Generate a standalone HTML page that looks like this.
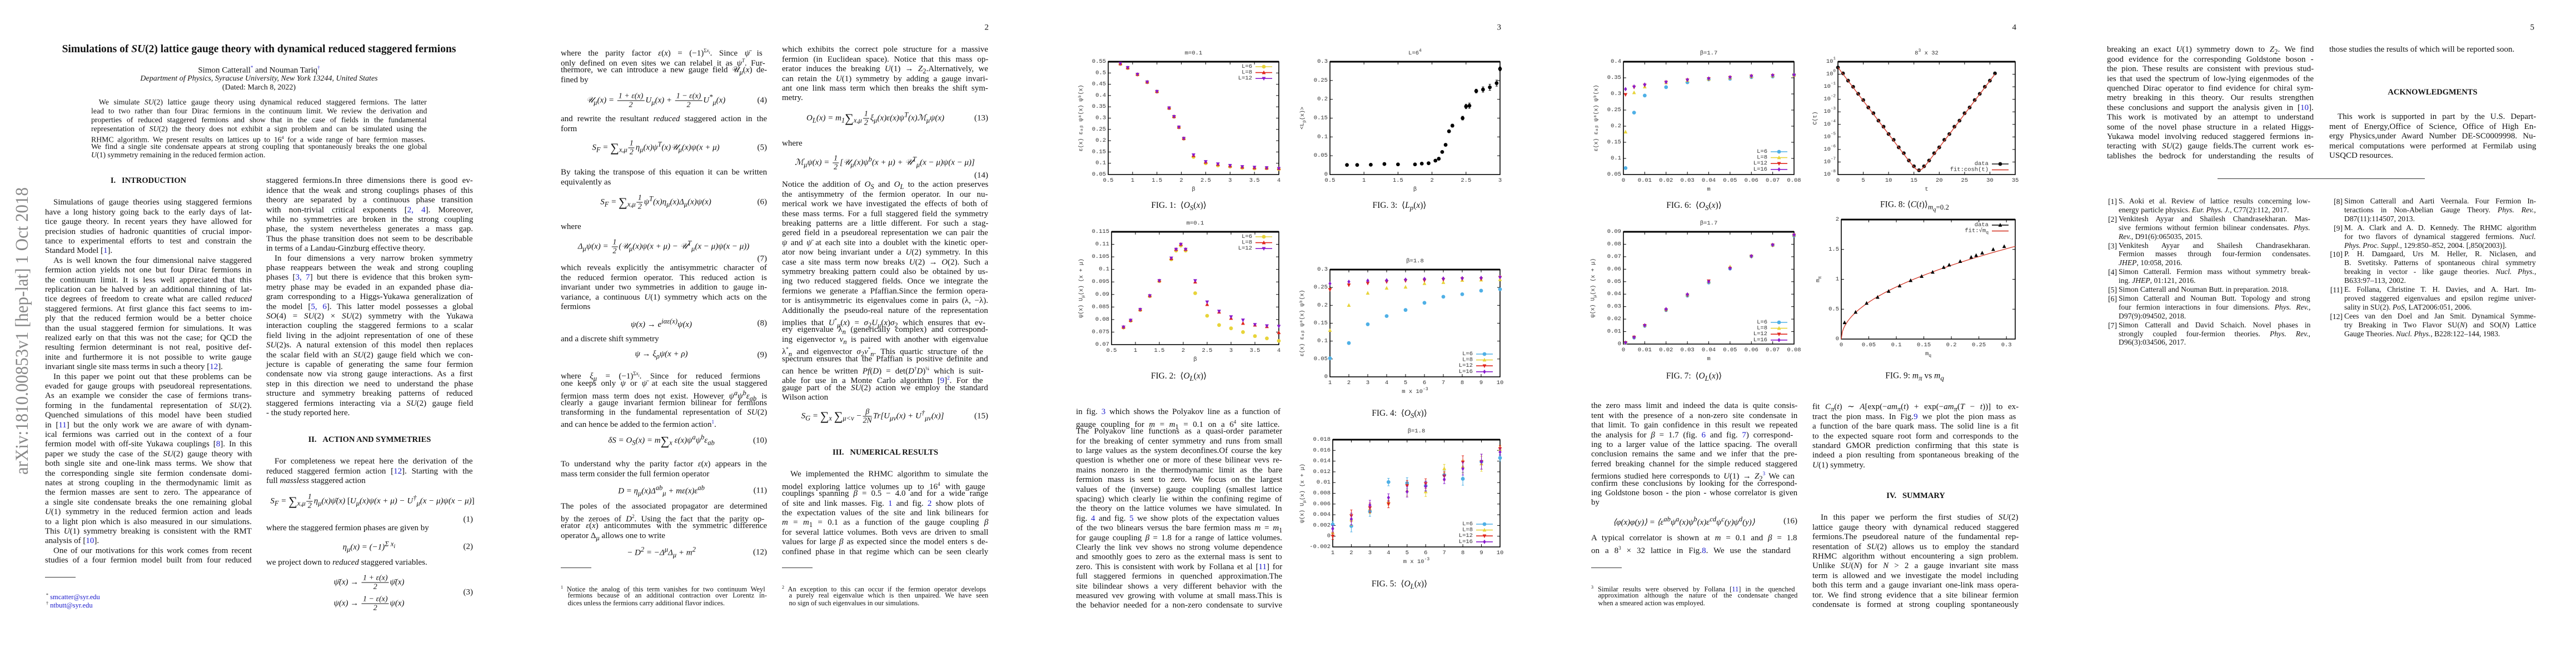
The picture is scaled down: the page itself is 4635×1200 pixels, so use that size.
<!DOCTYPE html>
<html><head><meta charset="utf-8">
<style>
html,body{margin:0;padding:0;background:#fff}
body{width:4635px;height:1200px;position:relative;overflow:hidden;font-family:"Liberation Serif",serif;color:#111}
.ln{position:absolute;white-space:nowrap;font-size:15px;height:17.4px;line-height:17.4px;transform-origin:0 50%}
.c{color:#1a1acc}
.h{position:absolute;font-weight:bold;font-size:14.5px;white-space:nowrap;transform:translateX(-50%)}
.eq{position:absolute;white-space:nowrap;font-size:15px;font-style:italic;transform:translate(-50%,-50%)}
.eq .u{font-style:normal}
.num{position:absolute;font-size:15px;white-space:nowrap;transform:translate(-100%,-50%)}
.fr{display:inline-block;vertical-align:middle;text-align:center;font-size:14px;margin:0 2px}
.fr>span{display:block;line-height:15px}
.fr .n{border-bottom:1px solid #111;padding:0 2px}
.sg{font-size:22px;font-style:normal;vertical-align:middle}
.cap{position:absolute;font-size:15.5px;white-space:nowrap;transform:translate(-50%,-50%)}
.pn{position:absolute;font-size:15px;transform:translate(-100%,-50%)}
.rule{position:absolute;height:1px;background:#333}
</style></head>
<body>
<div id="txt"></div>
<svg id="plots" width="4635" height="1200" style="position:absolute;left:0;top:0" xmlns="http://www.w3.org/2000/svg">
<text transform="translate(50,854) rotate(-90)" font-family="Liberation Serif, serif" font-size="33" fill="#888" textLength="517" lengthAdjust="spacingAndGlyphs">arXiv:1810.00853v1  [hep-lat]  1 Oct 2018</text>
</svg>

<div class="pn" style="left:1779px;top:50px">2</div>
<div class="pn" style="left:2701px;top:50px">3</div>
<div class="pn" style="left:3628px;top:50px">4</div>
<div class="pn" style="left:4560px;top:50px">5</div>

<div style="position:absolute;left:466px;top:89px;transform:translate(-50%,-50%);font-size:19.5px;font-weight:bold;white-space:nowrap">Simulations of <i>SU</i>(2) lattice gauge theory with dynamical reduced staggered fermions</div>
<div style="position:absolute;left:466px;top:126px;transform:translate(-50%,-50%);font-size:15px;white-space:nowrap">Simon Catterall<sup class="c" style="font-size:9px">*</sup> and Nouman Tariq<sup class="c" style="font-size:9px">†</sup></div>
<div style="position:absolute;left:466px;top:142px;transform:translate(-50%,-50%);font-size:14px;font-style:italic;white-space:nowrap">Department of Physics, Syracuse University, New York 13244, United States</div>
<div style="position:absolute;left:466px;top:158px;transform:translate(-50%,-50%);font-size:14px;white-space:nowrap">(Dated: March 8, 2022)</div>

<div class="h" style="left:267px;top:317px">I.&nbsp;&nbsp;&nbsp;INTRODUCTION</div>
<div class="h" style="left:665px;top:783px">II.&nbsp;&nbsp;&nbsp;ACTION AND SYMMETRIES</div>
<div class="h" style="left:1593px;top:806px">III.&nbsp;&nbsp;&nbsp;NUMERICAL RESULTS</div>
<div class="h" style="left:3447px;top:884px">IV.&nbsp;&nbsp;&nbsp;SUMMARY</div>
<div class="h" style="left:4377px;top:158px">ACKNOWLEDGMENTS</div>

<div class="rule" style="left:81px;top:1038px;width:55px"></div>
<div class="rule" style="left:1009px;top:1021px;width:55px"></div>
<div class="rule" style="left:1407px;top:1021px;width:55px"></div>
<div class="rule" style="left:2863px;top:1021px;width:55px"></div>
<div class="rule" style="left:3990px;top:321px;width:373px"></div>
<div style="position:absolute;left:83px;top:1066px;font-size:12.5px;white-space:nowrap"><sup style="font-size:8px">*</sup> <span class="c">smcatter@syr.edu</span></div>
<div style="position:absolute;left:83px;top:1081px;font-size:12.5px;white-space:nowrap"><sup style="font-size:8px">†</sup> <span class="c">ntbutt@syr.edu</span></div>

<!-- Equations -->
<div class="eq" style="left:670px;top:902px">S<sub>F</sub> = <span class="sg">∑</span><sub>x,μ</sub><span class="fr"><span class="n">1</span><span>2</span></span>η<sub>μ</sub>(x)ψ̄(x) <span class="u">[</span>U<sub>μ</sub>(x)ψ(x + μ) − U<sup>†</sup><sub>μ</sub>(x − μ)ψ(x − μ)<span class="u">]</span></div>
<div class="num" style="left:851px;top:935px">(1)</div>
<div class="eq" style="left:664px;top:984px">η<sub>μ</sub>(x) = (−1)<sup>Σ x<sub>i</sub></sup></div>
<div class="num" style="left:851px;top:984px">(2)</div>
<div class="eq" style="left:664px;top:1048px">ψ̄(x) → <span class="fr"><span class="n">1 + ε(x)</span><span>2</span></span>ψ̄(x)</div>
<div class="eq" style="left:664px;top:1086px">ψ(x) → <span class="fr"><span class="n">1 − ε(x)</span><span>2</span></span>ψ(x)</div>
<div class="num" style="left:851px;top:1066px">(3)</div>

<div class="eq" style="left:1180px;top:181px">𝒰<sub>μ</sub>(x) = <span class="fr"><span class="n">1 + ε(x)</span><span>2</span></span>U<sub>μ</sub>(x) + <span class="fr"><span class="n">1 − ε(x)</span><span>2</span></span>U<sup>*</sup><sub>μ</sub>(x)</div>
<div class="num" style="left:1380px;top:181px">(4)</div>
<div class="eq" style="left:1180px;top:266px">S<sub>F</sub> = <span class="sg">∑</span><sub>x,μ</sub><span class="fr"><span class="n">1</span><span>2</span></span>η<sub>μ</sub>(x)ψ<sup>T</sup>(x)𝒰<sub>μ</sub>(x)ψ(x + μ)</div>
<div class="num" style="left:1380px;top:266px">(5)</div>
<div class="eq" style="left:1180px;top:364px">S<sub>F</sub> = <span class="sg">∑</span><sub>x,μ</sub><span class="fr"><span class="n">1</span><span>2</span></span>ψ<sup>T</sup>(x)η<sub>μ</sub>(x)Δ<sub>μ</sub>(x)ψ(x)</div>
<div class="num" style="left:1380px;top:364px">(6)</div>
<div class="eq" style="left:1194px;top:444px">Δ<sub>μ</sub>ψ(x) = <span class="fr"><span class="n">1</span><span>2</span></span>(𝒰<sub>μ</sub>(x)ψ(x + μ) − 𝒰<sup>T</sup><sub>μ</sub>(x − μ)ψ(x − μ))</div>
<div class="num" style="left:1380px;top:466px">(7)</div>
<div class="eq" style="left:1190px;top:582px">ψ(x) → e<sup>iαε(x)</sup>ψ(x)</div>
<div class="num" style="left:1380px;top:582px">(8)</div>
<div class="eq" style="left:1190px;top:639px">ψ → ξ<sub>ρ</sub>ψ(x + ρ)</div>
<div class="num" style="left:1380px;top:639px">(9)</div>
<div class="eq" style="left:1190px;top:793px">δS = O<sub>S</sub>(x) = m<span class="sg">∑</span><sub>x</sub> ε(x)ψ<sup>a</sup>ψ<sup>b</sup>ε<sub>ab</sub></div>
<div class="num" style="left:1380px;top:793px">(10)</div>
<div class="eq" style="left:1190px;top:883px">D = η<sub>μ</sub>(x)Δ<sup>ab</sup><sub>μ</sub> + mε(x)ε<sup>ab</sup></div>
<div class="num" style="left:1380px;top:883px">(11)</div>
<div class="eq" style="left:1190px;top:994px">− D<sup>2</sup> = −Δ<sup>μ</sup>Δ<sub>μ</sub> + m<sup>2</sup></div>
<div class="num" style="left:1380px;top:994px">(12)</div>

<div class="eq" style="left:1575px;top:213px">O<sub>L</sub>(x) = m<sub>1</sub><span class="sg">∑</span><sub>x,μ</sub><span class="fr"><span class="n">1</span><span>2</span></span>ξ<sub>μ</sub>(x)ε(x)ψ<sup>T</sup>(x)ℳ<sub>μ</sub>ψ(x)</div>
<div class="num" style="left:1778px;top:213px">(13)</div>
<div class="eq" style="left:1592px;top:293px">ℳ<sub>μ</sub>ψ(x) = <span class="fr"><span class="n">1</span><span>2</span></span>[𝒰<sub>μ</sub>(x)ψ<sup>b</sup>(x + μ) + 𝒰<sup>T</sup><sub>μ</sub>(x − μ)ψ(x − μ)]</div>
<div class="num" style="left:1778px;top:316px">(14)</div>
<div class="eq" style="left:1570px;top:749px">S<sub>G</sub> = <span class="sg">∑</span><sub>x</sub> <span class="sg">∑</span><sub>μ&lt;ν</sub> −<span class="fr"><span class="n">β</span><span>2N</span></span>Tr[U<sub>μν</sub>(x) + U<sup>†</sup><sub>μν</sub>(x)]</div>
<div class="num" style="left:1778px;top:749px">(15)</div>
<div class="eq" style="left:3030px;top:938px">⟨φ(x)φ(y)⟩ = ⟨ε<sup>ab</sup>ψ<sup>a</sup>(x)ψ<sup>b</sup>(x)ε<sup>cd</sup>ψ<sup>c</sup>(y)ψ<sup>d</sup>(y)⟩</div>
<div class="num" style="left:3234px;top:938px">(16)</div>

<!-- Captions -->
<div class="cap" style="left:2121px;top:371px">FIG. 1:&nbsp; ⟨<i>O<sub>S</sub></i>(<i>x</i>)⟩</div>
<div class="cap" style="left:2518px;top:371px">FIG. 3:&nbsp; ⟨<i>L<sub>p</sub></i>(<i>x</i>)⟩</div>
<div class="cap" style="left:2121px;top:678px">FIG. 2:&nbsp; ⟨<i>O<sub>L</sub></i>(<i>x</i>)⟩</div>
<div class="cap" style="left:2518px;top:745px">FIG. 4:&nbsp; ⟨<i>O<sub>S</sub></i>(<i>x</i>)⟩</div>
<div class="cap" style="left:2518px;top:1052px">FIG. 5:&nbsp; ⟨<i>O<sub>L</sub></i>(<i>x</i>)⟩</div>
<div class="cap" style="left:3048px;top:371px">FIG. 6:&nbsp; ⟨<i>O<sub>S</sub></i>(<i>x</i>)⟩</div>
<div class="cap" style="left:3445px;top:371px">FIG. 8: ⟨<i>C</i>(<i>t</i>)⟩<sub><i>m<sub>q</sub></i>=0.2</sub></div>
<div class="cap" style="left:3048px;top:678px">FIG. 7:&nbsp; ⟨<i>O<sub>L</sub></i>(<i>x</i>)⟩</div>
<div class="cap" style="left:3445px;top:678px">FIG. 9: <i>m<sub>π</sub></i> vs <i>m<sub>q</sub></i></div>

<script>
// ================= CHART DATA =================
const f1Beta = [0.75,0.9,1.1,1.3,1.5,1.75,1.85,1.95,2.05,2.25,2.5,2.75,3.0,3.25,3.5,3.75,4.0];
const f1L6 = [0.540,0.522,0.493,0.459,0.417,0.344,0.306,0.259,0.209,0.128,0.100,0.090,0.085,0.080,0.077,0.078,0.074];
const f1L8 = [0.541,0.523,0.494,0.460,0.418,0.345,0.307,0.260,0.210,0.134,0.105,0.095,0.088,0.083,0.080,0.079,0.077];
const f1L12 = [0.542,0.524,0.494,0.460,0.418,0.345,0.307,0.260,0.210,0.137,0.107,0.097,0.090,0.085,0.082,0.080,0.077];
const f2Beta = [0.75,0.9,1.1,1.3,1.5,1.75,1.85,1.95,2.05,2.25,2.5,2.75,3.0,3.25,3.5,3.75,4.0];
const f2L6 = [0.0768,0.0795,0.0838,0.0893,0.0953,0.1040,0.1075,0.1095,0.1075,0.0905,0.0815,0.0778,0.0765,0.0750,0.0734,0.0725,0.0715];
const f2L8 = [0.0770,0.0797,0.0840,0.0895,0.0955,0.1043,0.1080,0.1100,0.1080,0.0950,0.0860,0.0830,0.0805,0.0785,0.0778,0.0772,0.0748];
const f2L12 = [0.0770,0.0797,0.0840,0.0895,0.0955,0.1045,0.1080,0.1100,0.1080,0.0955,0.0870,0.0833,0.0811,0.0798,0.0780,0.0775,0.0773];
const f3Beta = [0.75,0.9,1.1,1.3,1.5,1.75,1.85,1.95,2.05,2.1,2.15,2.2,2.25,2.3,2.45,2.5,2.55,2.65,2.75,2.85,2.95,3.0];
const f3Lp = [0.0255,0.0255,0.026,0.028,0.027,0.027,0.029,0.030,0.037,0.042,0.060,0.079,0.115,0.130,0.150,0.181,0.183,0.222,0.226,0.232,0.243,0.281];
const f3Err = [0.002,0.002,0.002,0.002,0.002,0.002,0.002,0.002,0.003,0.003,0.003,0.003,0.003,0.004,0.005,0.006,0.007,0.005,0.007,0.008,0.008,0.005];
const f4M = [1,2,3,4,5,6,7,8,9,10];
const f4L6 = [0.052,0.0945,0.147,0.170,0.187,0.207,0.224,0.231,0.241,0.245];
const f4L8 = [0.130,0.200,0.234,0.248,0.251,0.261,0.264,0.270,0.271,0.272];
const f4L12 = [0.244,0.257,0.262,0.266,0.269,0.270,0.272,0.274,0.274,0.278];
const f4L16 = [0.261,0.266,0.269,0.270,0.272,0.274,0.275,0.276,0.277,0.279];
const f5M = [1,2,3,4,5,6,7,8,9,10];
const f5L6 = [0.0022,0.0019,0.0046,0.0101,0.0099,0.0094,0.0114,0.0107,0.0139,0.0146];
const f5L8 = [0.0007,0.0031,0.0051,0.0065,0.0085,0.0083,0.0126,0.0130,0.0135,0.0162];
const f5L12 = [0.0000,0.0038,0.0053,0.0060,0.0094,0.0098,0.0112,0.0138,0.0139,0.0163];
const f5L16 = [0.0014,0.0032,0.0058,0.0072,0.0083,0.0093,0.0106,0.0126,0.0139,0.0157];
const f5Err = [0.0006,0.0011,0.0009,0.0007,0.0010,0.0009,0.0008,0.0012,0.0014,0.0006];
const f6M = [0.001,0.005,0.01,0.02,0.03,0.04,0.05,0.06,0.07,0.08];
const f6L6 = [0.070,0.242,0.295,0.321,0.336,0.345,0.347,0.352,0.354,0.359];
const f6L8 = [0.182,0.304,0.322,0.335,0.342,0.346,0.350,0.354,0.356,0.358];
const f6L12 = [0.298,0.321,0.327,0.336,0.343,0.347,0.351,0.355,0.357,0.358];
const f6L16 = [0.315,0.323,0.329,0.337,0.344,0.348,0.352,0.356,0.358,0.359];
const f7M = [0.001,0.005,0.01,0.02,0.03,0.04,0.05,0.06,0.07,0.08];
const f7L6 = [0.0010,0.0052,0.0146,0.0272,0.0388,0.0493,0.0605,0.0703,0.0793,0.0868];
const f7L8 = [0.0012,0.0058,0.0150,0.0278,0.0395,0.0500,0.0620,0.0706,0.0793,0.0873];
const f7L12 = [0.0010,0.0054,0.0148,0.0274,0.0392,0.0505,0.0606,0.0703,0.0793,0.0873];
const f7L16 = [0.0011,0.0054,0.0150,0.0280,0.0398,0.0500,0.0608,0.0705,0.0795,0.0875];
const f8T = [0,1,2,3,4,5,6,7,8,9,10,11,12,13,14,15,16,17,18,19,20,21,22,23,24,25,26,27,28,29,30,31];
const f8LogC = [0.54,0.07,-0.51,-1.0,-1.56,-2.06,-2.65,-3.11,-3.70,-4.18,-4.77,-5.23,-5.83,-6.30,-6.88,-7.34,-7.66,-7.34,-6.88,-6.30,-5.83,-5.23,-4.77,-4.18,-3.70,-3.11,-2.65,-2.06,-1.56,-1.0,-0.51,0.07];
const f8FitA = 3.5;
const f8FitM = 1.225;
const f8FitT = 32;
const f9Mq = [0.006,0.026,0.046,0.066,0.086,0.106,0.126,0.146,0.166,0.186,0.196,0.216,0.236,0.245,0.256,0.276,0.296];
const f9Mpi = [0.275,0.45,0.60,0.70,0.80,0.89,0.98,1.05,1.12,1.20,1.24,1.30,1.37,1.40,1.44,1.50,1.55];
const f9FitCoef = 2.76;
const ticksB4 = [0.5,1,1.5,2,2.5,3,3.5,4];
const ticksB3 = [0.5,1,1.5,2,2.5,3];
const ticksM10 = [1,2,3,4,5,6,7,8,9,10];
const ticksM08 = [0,0.01,0.02,0.03,0.04,0.05,0.06,0.07,0.08];
const ticksT = [0,5,10,15,20,25,30,35];
const ticksLog = [-8,-7,-6,-5,-4,-3,-2,-1,0,1];
const ticksMq = [0,0.05,0.1,0.15,0.2,0.25,0.3];

// ================= TEXT =================
const TX = document.getElementById('txt');
function col(x, y, w, lines, fs, lh, nm) {
  lines.forEach((s, i) => {
    const d = document.createElement('div');
    
    
    d.className = 'ln';
    let ind = false, end = false;
    if (s.startsWith('>')) { ind = true; s = s.slice(1); }
    if (s.endsWith('|')) { end = true; s = s.slice(0, -1); }
    d.style.left = x + 'px';
    d.style.top = (y + i * lh - lh / 2) + 'px';
    d.style.fontSize = fs + 'px';
    d.style.height = lh + 'px';
    d.style.lineHeight = lh + 'px';
    if (ind) d.style.paddingLeft = (fs) + 'px';
    d.innerHTML = s.replace(/\[([\d, ]+)\]/g, '[<span class="c">$1</span>]');
    TX.appendChild(d);
    const nat = d.offsetWidth;
    if (!end) {
      const sp = (s.match(/ /g) || []).length;
      if (nat < w && sp > 0) d.style.wordSpacing = ((w - nat) / sp) + 'px';
      else if (nat > w) d.style.transform = 'scaleX(' + (w / nat) + ')';
    } else if (nat > w) d.style.transform = 'scaleX(' + (w / nat) + ')';
  });
}
const R = s => s; // plain
col(164, 184, 604, [
">We simulate <i>SU</i>(2) lattice gauge theory using dynamical reduced staggered fermions. The latter",
"lead to two rather than four Dirac fermions in the continuum limit. We review the derivation and",
"properties of reduced staggered fermions and show that in the case of fields in the fundamental",
"representation of <i>SU</i>(2) the theory does not exhibit a sign problem and can be simulated using the",
"RHMC algorithm. We present results on lattices up to 16<sup style='font-size:8px'>4</sup> for a wide range of bare fermion masses.",
"We find a single site condensate appears at strong coupling that spontaneously breaks the one global",
"<i>U</i>(1) symmetry remaining in the reduced fermion action.|"], 13.8, 15.9, 'abstract-line');

col(81, 365, 372, [
">Simulations of gauge theories using staggered fermions",
"have a long history going back to the early days of lat-",
"tice gauge theory. In recent years they have allowed for",
"precision studies of hadronic quantities of crucial impor-",
"tance to experimental efforts to test and constrain the",
"Standard Model [1].|",
">As is well known the four dimensional naive staggered",
"fermion action yields not one but four Dirac fermions in",
"the continuum limit. It is less well appreciated that this",
"replication can be halved by an additional thinning of lat-",
"tice degrees of freedom to create what are called <i>reduced</i>",
"staggered fermions. At first glance this fact seems to im-",
"ply that the reduced fermion would be a better choice",
"than the usual staggered fermion for simulations. It was",
"realized early on that this was not the case; for QCD the",
"resulting fermion determinant is not real, positive def-",
"inite and furthermore it is not possible to write gauge",
"invariant single site mass terms in such a theory [12].|",
">In this paper we point out that these problems can be",
"evaded for gauge groups with pseudoreal representations.",
"As an example we consider the case of fermions trans-",
"forming in the fundamental representation of <i>SU</i>(2).",
"Quenched simulations of this model have been studied",
"in [11] but the only work we are aware of with dynam-",
"ical fermions was carried out in the context of a four",
"fermion model with off-site Yukawa couplings [8]. In this",
"paper we study the case of the <i>SU</i>(2) gauge theory with",
"both single site and one-link mass terms. We show that",
"the corresponding single site fermion condensate domi-",
"nates at strong coupling in the thermodynamic limit as",
"the fermion masses are sent to zero. The appearance of",
"a single site condensate breaks the one remaining global",
"<i>U</i>(1) symmetry in the reduced fermion action and leads",
"to a light pion which is also measured in our simulations.",
"This <i>U</i>(1) symmetry breaking is consistent with the RMT",
"analysis of [10].|",
">One of our motivations for this work comes from recent",
"studies of a four fermion model built from four reduced"], 15, 17.4, 'intro-text-line');

col(479, 326, 372, [
"staggered fermions.In three dimensions there is good ev-",
"idence that the weak and strong couplings phases of this",
"theory are separated by a continuous phase transition",
"with non-trivial critical exponents [2, 4]. Moreover,",
"while no symmetries are broken in the strong coupling",
"phase, the system nevertheless generates a mass gap.",
"Thus the phase transition does not seem to be describable",
"in terms of a Landau-Ginzburg effective theory.|",
">In four dimensions a very narrow broken symmetry",
"phase reappears between the weak and strong coupling",
"phases [3, 7] but there is evidence that this broken sym-",
"metry phase may be evaded in an expanded phase dia-",
"gram corresponding to a Higgs-Yukawa generalization of",
"the model [5, 6]. This latter model possesses a global",
"<i>SO</i>(4) = <i>SU</i>(2) × <i>SU</i>(2) symmetry with the Yukawa",
"interaction coupling the staggered fermions to a scalar",
"field living in the adjoint representation of one of these",
"<i>SU</i>(2)s. A natural extension of this model then replaces",
"the scalar field with an <i>SU</i>(2) gauge field which we con-",
"jecture is capable of generating the same four fermion",
"condensate now via strong gauge interactions. As a first",
"step in this direction we need to understand the phase",
"structure and symmetry breaking patterns of reduced",
"staggered fermions interacting via a <i>SU</i>(2) gauge field",
"- the study reported here.|"], 15, 17.4, 'intro-text-line');
col(479, 831, 372, [
">For completeness we repeat here the derivation of the",
"reduced staggered fermion action [12]. Starting with the",
"full <i>massless</i> staggered action|"], 15, 17.4, 'section2-text-line');
col(479, 951, 372, ["where the staggered fermion phases are given by|"], 15, 17.4, 'section2-text-line');
col(479, 1013, 372, ["we project down to <i>reduced</i> staggered variables.|"], 15, 17.4, 'section2-text-line');

// page 2 left
const P2L = 1009, P2R = 1407, W = 371;
col(P2L, 92, W, [
"where the parity factor <i>ε</i>(<i>x</i>) = (−1)<sup style='font-size:9px'>Σ<i>x<sub>i</sub></i></sup>. Since <i>ψ̄</i> is",
"only defined on even sites we can relabel it as <i>ψ<sup style='font-size:9px'>T</sup></i>. Fur-",
"thermore, we can introduce a new gauge field 𝒰<sub><i>μ</i></sub>(<i>x</i>) de-",
"fined by|"], 15, 17.4, 'body-text-line');
col(P2L, 215, W, ["and rewrite the resultant <i>reduced</i> staggered action in the", "form|"], 15, 17.4, 'body-text-line');
col(P2L, 311, W, ["By taking the transpose of this equation it can be written", "equivalently as|"], 15, 17.4, 'body-text-line');
col(P2L, 409, W, ["where|"], 15, 17.4, 'body-text-line');
col(P2L, 483, W, [
"which reveals explicitly the antisymmetric character of",
"the reduced fermion operator. This reduced action is",
"invariant under two symmetries in addition to gauge in-",
"variance, a continuous <i>U</i>(1) symmetry which acts on the",
"fermions|"], 15, 17.4, 'body-text-line');
col(P2L, 611, W, ["and a discrete shift symmetry|"], 15, 17.4, 'body-text-line');
col(P2L, 673, W, [
"where <i>ξ<sub>μ</sub></i> = (−1)<sup style='font-size:9px'>Σ<i>x<sub>i</sub></i></sup>. Since for reduced fermions",
"one keeps only <i>ψ</i> or <i>ψ̄</i> at each site the usual staggered",
"fermion mass term does not exist. However <i>ψ<sup>a</sup>ψ<sup>b</sup>ε<sub>ab</sub></i> is",
"clearly a gauge invariant fermion bilinear for fermions",
"transforming in the fundamental representation of <i>SU</i>(2)",
"and can hence be added to the fermion action<sup class='c' style='font-size:9px'>1</sup>.|"], 15, 17.4, 'body-text-line');
col(P2L, 836, W, ["To understand why the parity factor <i>ε</i>(<i>x</i>) appears in the", "mass term consider the full fermion operator|"], 15, 17.4, 'body-text-line');
col(P2L, 912, W, [
"The poles of the associated propagator are determined",
"by the zeroes of <i>D</i><sup style='font-size:9px'>2</sup>. Using the fact that the parity op-",
"erator <i>ε</i>(<i>x</i>) anticommutes with the symmetric difference",
"operator Δ<sub><i>μ</i></sub> allows one to write|"], 15, 17.4, 'body-text-line');
col(P2L, 1057, W, [
"<sup style='font-size:8px'>1</sup> Notice the analog of this term vanishes for two continuum Weyl",
">fermions because of an additional contraction over Lorentz in-",
">dices unless the fermions carry additional flavor indices.|"], 12.5, 14.2, 'footnote-line');

// page 2 right
col(P2R, 90, W, [
"which exhibits the correct pole structure for a massive",
"fermion (in Euclidean space). Notice that this mass op-",
"erator induces the breaking <i>U</i>(1) → <i>Z</i><sub>2</sub>.Alternatively, we",
"can retain the <i>U</i>(1) symmetry by adding a gauge invari-",
"ant one link mass term which then breaks the shift sym-",
"metry.|"], 15, 17.4, 'body-text-line');
col(P2R, 259, W, ["where|"], 15, 17.4, 'body-text-line');
col(P2R, 333, W, [
"Notice the addition of <i>O<sub>S</sub></i> and <i>O<sub>L</sub></i> to the action preserves",
"the antisymmetry of the fermion operator. In our nu-",
"merical work we have investigated the effects of both of",
"these mass terms. For a full staggered field the symmetry",
"breaking patterns are a little different. For such a stag-",
"gered field in a pseudoreal representation we can pair the",
"<i>ψ</i> and <i>ψ̄</i> at each site into a doublet with the kinetic oper-",
"ator now being invariant under a <i>U</i>(2) symmetry. In this",
"case a site mass term now breaks <i>U</i>(2) → <i>O</i>(2). Such a",
"symmetry breaking pattern could also be obtained by us-",
"ing two reduced staggered fields. Once we integrate the",
"fermions we generate a Pfaffian.Since the fermion opera-",
"tor is antisymmetric its eigenvalues come in pairs (λ, −λ).",
"Additionally the pseudo-real nature of the representation",
"implies that <i>U</i><sup style='font-size:9px'>*</sup><sub><i>μ</i></sub>(<i>x</i>) = <i>σ</i><sub>2</sub><i>U<sub>μ</sub></i>(<i>x</i>)<i>σ</i><sub>2</sub> which ensures that ev-",
"ery eigenvalue λ<sub><i>n</i></sub> (generically complex) and correspond-",
"ing eigenvector <i>v<sub>n</sub></i> is paired with another with eigenvalue",
"λ<sup style='font-size:9px'>*</sup><sub><i>n</i></sub> and eigenvector <i>σ</i><sub>2</sub><i>v</i><sup style='font-size:9px'>*</sup><sub><i>n</i></sub>. This quartic structure of the",
"spectrum ensures that the Pfaffian is positive definite and",
"can hence be written <i>Pf</i>(<i>D</i>) = det(<i>D</i><sup style='font-size:9px'>†</sup><i>D</i>)<sup style='font-size:9px'>¼</sup> which is suit-",
"able for use in a Monte Carlo algorithm [9]<sup class='c' style='font-size:9px'>2</sup>. For the",
"gauge part of the <i>SU</i>(2) action we employ the standard",
"Wilson action|"], 15, 17.4, 'body-text-line');
col(P2R, 854, W, [
">We implemented the RHMC algorithm to simulate the",
"model exploring lattice volumes up to 16<sup style='font-size:9px'>4</sup> with gauge",
"couplings spanning <i>β</i> = 0.5 − 4.0 and for a wide range",
"of site and link masses. Fig. <span class='c'>1</span> and fig. <span class='c'>2</span> show plots of",
"the expectation values of the site and link bilinears for",
"<i>m</i> = <i>m</i><sub>1</sub> = 0.1 as a function of the gauge coupling <i>β</i>",
"for several lattice volumes. Both vevs are driven to small",
"values for large <i>β</i> as expected since the model enters s de-",
"confined phase in that regime which can be seen clearly"], 15, 17.4, 'body-text-line');
col(P2R, 1057, W, [
"<sup style='font-size:8px'>2</sup> An exception to this can occur if the fermion operator develops",
">a purely real eigenvalue which is then unpaired. We have seen",
">no sign of such eigenvalues in our simulations.|"], 12.5, 14.2, 'footnote-line');

// page 3
col(1936, 742, W, [
"in fig. <span class='c'>3</span> which shows the Polyakov line as a function of",
"gauge coupling for <i>m</i> = <i>m</i><sub>1</sub> = 0.1 on a 6<sup style='font-size:9px'>4</sup> site lattice.",
"The Polyakov line functions as a quasi-order parameter",
"for the breaking of center symmetry and runs from small",
"to large values as the system deconfines.Of course the key",
"question is whether one or more of these bilinear vevs re-",
"mains nonzero in the thermodynamic limit as the bare",
"fermion mass is sent to zero. We focus on the largest",
"values of the (inverse) gauge coupling (smallest lattice",
"spacing) which clearly lie within the confining regime of",
"the theory on the lattice volumes we have simulated. In",
"fig. <span class='c'>4</span> and fig. <span class='c'>5</span> we show plots of the expectation values",
"of the two blinears versus the bare fermion mass <i>m</i> = <i>m</i><sub>1</sub>",
"for gauge coupling <i>β</i> = 1.8 for a range of lattice volumes.",
"Clearly the link vev shows no strong volume dependence",
"and smoothly goes to zero as the external mass is sent to",
"zero. This is consistent with work by Follana et al [11] for",
"full staggered fermions in quenched approximation.The",
"site bilindear shows a very different behavior with the",
"measured vev growing with volume at small mass.This is",
"the behavior needed for a non-zero condensate to survive"], 15, 17.4, 'body-text-line');

// page 4
col(2863, 731, W, [
"the zero mass limit and indeed the data is quite consis-",
"tent with the presence of a non-zero site condensate in",
"that limit. To gain confidence in this result we repeated",
"the analysis for <i>β</i> = 1.7 (fig. <span class='c'>6</span> and fig. <span class='c'>7</span>) correspond-",
"ing to a larger value of the lattice spacing. The overall",
"conclusion remains the same and we infer that the pre-",
"ferred breaking channel for the simple reduced staggered",
"fermions studied here corresponds to <i>U</i>(1) → <i>Z</i><sub>2</sub><sup class='c' style='font-size:9px'>3</sup> We can",
"confirm these conclusions by looking for the correspond-",
"ing Goldstone boson - the pion - whose correlator is given",
"by|"], 15, 17.4, 'body-text-line');
col(2863, 969, W, [
"A typical correlator is shown at <i>m</i> = 0.1 and <i>β</i> = 1.8",
"on a 8<sup style='font-size:9px'>3</sup> × 32 lattice in Fig.<span class='c'>8</span>. We use the standard"], 15, 17.4, 'body-text-line');
col(2863, 1057, W, [
"<sup style='font-size:8px'>3</sup> Similar results were observed by Follana [11] in the quenched",
">approximation although the nature of the condensate changed",
">when a smeared action was employed.|"], 12.5, 14.2, 'footnote-line');
col(3261, 733, W, [
"fit <i>C<sub>π</sub></i>(<i>t</i>) ∼ <i>A</i>[exp(−<i>am<sub>π</sub></i>(<i>t</i>) + exp(−<i>am<sub>π</sub></i>(<i>T</i> − <i>t</i>))] to ex-",
"tract the pion mass. In Fig.<span class='c'>9</span> we plot the pion mass as",
"a function of the bare quark mass. The solid line is a fit",
"to the expected square root form and corresponds to the",
"standard GMOR prediction confirming that this state is",
"indeed a pion resulting from spontaneous breaking of the",
"<i>U</i>(1) symmetry.|"], 15, 17.4, 'body-text-line');
col(3261, 932, W, [
">In this paper we perform the first studies of <i>SU</i>(2)",
"lattice gauge theory with dynamical reduced staggered",
"fermions.The pseudoreal nature of the fundamental rep-",
"resentation of <i>SU</i>(2) allows us to employ the standard",
"RHMC algorithm without encountering a sign problem.",
"Unlike <i>SU</i>(<i>N</i>) for <i>N</i> &gt; 2 a gauge invariant site mass",
"term is allowed and we investigate the model including",
"both this term and a gauge invariant one-link mass opera-",
"tor. We find strong evidence that a site bilinear fermion",
"condensate is formed at strong coupling spontaneously"], 15, 17.4, 'body-text-line');

// page 5
col(3791, 90, 372, [
"breaking an exact <i>U</i>(1) symmetry down to <i>Z</i><sub>2</sub>. We find",
"good evidence for the corresponding Goldstone boson -",
"the pion. These results are consistent with previous stud-",
"ies that used the spectrum of low-lying eigenmodes of the",
"quenched Dirac operator to find evidence for chiral sym-",
"metry breaking in this theory. Our results strengthen",
"these conclusions and support the analysis given in [10].",
"This work is motivated by an attempt to understand",
"some of the novel phase structure in a related Higgs-",
"Yukawa model involving reduced staggered fermions in-",
"teracting with <i>SU</i>(2) gauge fields.The current work es-",
"tablishes the bedrock for understanding the results of"], 15, 17.4, 'body-text-line');
col(4191, 90, 372, ["those studies the results of which will be reported soon.|"], 15, 17.4, 'body-text-line');
col(4191, 211, 372, [
">This work is supported in part by the U.S. Depart-",
"ment of Energy,Office of Science, Office of High En-",
"ergy Physics,under Award Number DE-SC0009998. Nu-",
"merical computations were performed at Fermilab using",
"USQCD resources.|"], 15, 17.4, 'acknowledgment-line');

function refs(x, y, items) {
  let k = 0;
  items.forEach(it => {
    it.lines.forEach((s, j) => {
      const last = j === it.lines.length - 1;
      const d = document.createElement('div');
      
      
      d.className = 'ln';
      d.style.fontSize = '13.6px';
      d.style.height = '15.9px';
      d.style.lineHeight = '15.9px';
      d.style.left = (x + 27) + 'px';
      d.style.top = (y + k * 15.9 - 8) + 'px';
      d.innerHTML = s;
      TX.appendChild(d);
      const nat = d.offsetWidth, w = 345;
      const sp = (s.match(/ /g) || []).length;
      if (!last && nat < w && sp > 0) d.style.wordSpacing = ((w - nat) / sp) + 'px';
      else if (nat > w) d.style.transform = 'scaleX(' + (w / nat) + ')';
      if (j === 0) {
        const n = document.createElement('div');
        
        
        n.className = 'ln';
        n.style.fontSize = '13.6px';
        n.style.left = (x + 24) + 'px';
        n.style.top = (y + k * 15.9 - 8) + 'px';
        n.style.transform = 'translateX(-100%)';
        n.textContent = it.n;
        TX.appendChild(n);
      }
      k++;
    });
  });
}
refs(3785, 362, [
 {n:'[1]', lines:["S. Aoki et al. Review of lattice results concerning low-","energy particle physics. <i>Eur. Phys. J.</i>, C77(2):112, 2017."]},
 {n:'[2]', lines:["Venkitesh Ayyar and Shailesh Chandrasekharan. Mas-","sive fermions without fermion bilinear condensates. <i>Phys.</i>","<i>Rev.</i>, D91(6):065035, 2015."]},
 {n:'[3]', lines:["Venkitesh Ayyar and Shailesh Chandrasekharan.","Fermion masses through four-fermion condensates.","<i>JHEP</i>, 10:058, 2016."]},
 {n:'[4]', lines:["Simon Catterall. Fermion mass without symmetry break-","ing. <i>JHEP</i>, 01:121, 2016."]},
 {n:'[5]', lines:["Simon Catterall and Nouman Butt. in preparation. 2018."]},
 {n:'[6]', lines:["Simon Catterall and Nouman Butt. Topology and strong","four fermion interactions in four dimensions. <i>Phys. Rev.</i>,","D97(9):094502, 2018."]},
 {n:'[7]', lines:["Simon Catterall and David Schaich. Novel phases in","strongly coupled four-fermion theories. <i>Phys. Rev.</i>,","D96(3):034506, 2017."]}
]);
refs(4191, 362, [
 {n:'[8]', lines:["Simon Catterall and Aarti Veernala. Four Fermion In-","teractions in Non-Abelian Gauge Theory. <i>Phys. Rev.</i>,","D87(11):114507, 2013."]},
 {n:'[9]', lines:["M. A. Clark and A. D. Kennedy. The RHMC algorithm","for two flavors of dynamical staggered fermions. <i>Nucl.</i>","<i>Phys. Proc. Suppl.</i>, 129:850–852, 2004. [,850(2003)]."]},
 {n:'[10]', lines:["P. H. Damgaard, Urs M. Heller, R. Niclasen, and","B. Svetitsky. Patterns of spontaneous chiral symmetry","breaking in vector - like gauge theories. <i>Nucl. Phys.</i>,","B633:97–113, 2002."]},
 {n:'[11]', lines:["E. Follana, Christine T. H. Davies, and A. Hart. Im-","proved staggered eigenvalues and epsilon regime univer-","sality in SU(2). <i>PoS</i>, LAT2006:051, 2006."]},
 {n:'[12]', lines:["Cees van den Doel and Jan Smit. Dynamical Symme-","try Breaking in Two Flavor SU(<i>N</i>) and SO(<i>N</i>) Lattice","Gauge Theories. <i>Nucl. Phys.</i>, B228:122–144, 1983."]}
]);

// ================= PLOTS =================
const NS = 'http://www.w3.org/2000/svg';
const SVG = document.getElementById('plots');
const COL = {blue:'#4fb0e6', yellow:'#e8d43a', red:'#e0261c', purple:'#8a1ccc', black:'#000'};
function grp(name) {
  const g = document.createElementNS(NS, 'g');
  
  
  SVG.appendChild(g);
  return g;
}
function ln(p, x1, y1, x2, y2, c, w, name) {
  const e = document.createElementNS(NS, 'line');
  e.setAttribute('x1', x1); e.setAttribute('y1', y1); e.setAttribute('x2', x2); e.setAttribute('y2', y2);
  e.setAttribute('stroke', c); e.setAttribute('stroke-width', w);
  
  
  p.appendChild(e);
  return e;
}
function tx(p, x, y, s, anchor, size, name, rot) {
  const e = document.createElementNS(NS, 'text');
  e.setAttribute('x', x); e.setAttribute('y', y);
  e.setAttribute('text-anchor', anchor);
  e.setAttribute('font-family', 'Liberation Mono, DejaVu Sans Mono, monospace');
  e.setAttribute('font-size', size);
  e.setAttribute('fill', '#333');
  e.setAttribute('dominant-baseline', 'central');
  if (rot) e.setAttribute('transform', 'rotate(-90 ' + x + ' ' + y + ')');
  e.innerHTML = s;
  
  
  p.appendChild(e);
  return e;
}
function mark(p, shape, cx, cy, c, name) {
  let e;
  const r = 3.4;
  if (shape === 'circle') {
    e = document.createElementNS(NS, 'circle');
    e.setAttribute('cx', cx); e.setAttribute('cy', cy); e.setAttribute('r', r);
  } else {
    e = document.createElementNS(NS, 'polygon');
    let pts;
    if (shape === 'up') pts = [[cx, cy - r - 0.5], [cx - r, cy + r * 0.8], [cx + r, cy + r * 0.8]];
    else if (shape === 'down') pts = [[cx, cy + r + 0.5], [cx - r, cy - r * 0.8], [cx + r, cy - r * 0.8]];
    else pts = [[cx, cy - r - 0.5], [cx + r * 0.8, cy], [cx, cy + r + 0.5], [cx - r * 0.8, cy]];
    e.setAttribute('points', pts.map(q => q.join(',')).join(' '));
  }
  e.setAttribute('fill', c);
  
  
  p.appendChild(e);
  return e;
}
function fmt(v) { return String(+v.toFixed(4)); }
function axes(cfg) {
  const g = grp(cfg.name);
  const sx = v => cfg.x0 + (v - cfg.xmin) / (cfg.xmax - cfg.xmin) * (cfg.x1 - cfg.x0);
  const sy = v => cfg.y1 - (v - cfg.ymin) / (cfg.ymax - cfg.ymin) * (cfg.y1 - cfg.y0);
  const rect = document.createElementNS(NS, 'rect');
  rect.setAttribute('x', cfg.x0); rect.setAttribute('y', cfg.y0);
  rect.setAttribute('width', cfg.x1 - cfg.x0); rect.setAttribute('height', cfg.y1 - cfg.y0);
  rect.setAttribute('fill', 'none'); rect.setAttribute('stroke', '#000'); rect.setAttribute('stroke-width', 1.6);
  
  
  g.appendChild(rect);
  ln(g, cfg.x0, cfg.y0, cfg.x1, cfg.y0, '#000', 3, 'plot-top-border');
  cfg.xticks.forEach(v => {
    const X = sx(v);
    ln(g, X, cfg.y1, X, cfg.y1 - 5, '#000', 1, 'x-tick');
    ln(g, X, cfg.y0, X, cfg.y0 + 5, '#000', 1, 'x-tick');
    tx(g, X, cfg.y1 + 11, cfg.xfmt ? cfg.xfmt(v) : fmt(v), 'middle', 10.5, 'x-tick-label');
  });
  cfg.yticks.forEach(v => {
    const Y = sy(v);
    ln(g, cfg.x0, Y, cfg.x0 + 5, Y, '#000', 1, 'y-tick');
    ln(g, cfg.x1, Y, cfg.x1 - 5, Y, '#000', 1, 'y-tick');
    tx(g, cfg.x0 - 4, Y, cfg.yfmt ? cfg.yfmt(v) : fmt(v), 'end', 10.5, 'y-tick-label');
  });
  if (cfg.title) tx(g, (cfg.x0 + cfg.x1) / 2, cfg.y0 - 15, cfg.title, 'middle', 10.5, 'plot-title');
  if (cfg.xlabel) tx(g, (cfg.x0 + cfg.x1) / 2, cfg.y1 + 27, cfg.xlabel, 'middle', 10.5, 'x-axis-title');
  if (cfg.ylabel) tx(g, cfg.x0 - cfg.ylOff, (cfg.y0 + cfg.y1) / 2, cfg.ylabel, 'middle', 10, 'y-axis-title', true);
  return {g, sx, sy};
}
function series(P, xs, ys, shape, c, errs, name) {
  const g = document.createElementNS(NS, 'g');
  
  
  P.g.appendChild(g);
  xs.forEach((x, i) => {
    const X = P.sx(x), Y = P.sy(ys[i]);
    if (errs) {
      const e = errs[i];
      ln(g, X, P.sy(ys[i] - e), X, P.sy(ys[i] + e), c, 1, 'error-bar');
      ln(g, X - 2, P.sy(ys[i] - e), X + 2, P.sy(ys[i] - e), c, 1, 'error-cap');
      ln(g, X - 2, P.sy(ys[i] + e), X + 2, P.sy(ys[i] + e), c, 1, 'error-cap');
    }
    mark(g, shape, X, Y, c, name + '-point');
  });
}
function legend(P, items, xr, y0) {
  items.forEach((it, i) => {
    const y = y0 + i * 10.6;
    tx(P.g, xr, y, it.label, 'end', 10.5, 'legend-label');
    ln(P.g, xr + 6, y, xr + 36, y, it.c, 1.6, 'legend-line');
    if (it.shape) mark(P.g, it.shape, xr + 21, y, it.c, 'legend-marker');
  });
}
function curve(P, pts, c, name) {
  const e = document.createElementNS(NS, 'polyline');
  e.setAttribute('points', pts.map(q => P.sx(q[0]).toFixed(1) + ',' + P.sy(q[1]).toFixed(1)).join(' '));
  e.setAttribute('fill', 'none'); e.setAttribute('stroke', c); e.setAttribute('stroke-width', 1.3);
  
  
  P.g.appendChild(e);
}
const yt = (a, b, s) => { const r = []; for (let v = a; v <= b + 1e-9; v += s) r.push(+v.toFixed(4)); return r; };

// FIG 1
const P1 = axes({name:'fig1-os-vs-beta', x0:1994, x1:2301, y0:111, y1:314, xmin:0.5, xmax:4, ymin:0.05, ymax:0.55, xticks:ticksB4, yticks:yt(0.05,0.55,0.05), title:'m=0.1', xlabel:'β', ylabel:'ε(x) εₐᵦ ψᵃ(x) ψᵇ(x)', ylOff:48});
series(P1, f1Beta, f1L6, 'circle', COL.yellow, null, 'fig1-series-L6');
series(P1, f1Beta, f1L8, 'up', COL.red, null, 'fig1-series-L8');
series(P1, f1Beta, f1L12, 'down', COL.purple, null, 'fig1-series-L12');
legend(P1, [{label:'L=6', c:COL.yellow, shape:'circle'}, {label:'L=8', c:COL.red, shape:'up'}, {label:'L=12', c:COL.purple, shape:'down'}], 2253, 120);
// FIG 2
const P2 = axes({name:'fig2-ol-vs-beta', x0:2000, x1:2301, y0:417, y1:620, xmin:0.5, xmax:4, ymin:0.07, ymax:0.115, xticks:ticksB4, yticks:yt(0.07,0.115,0.005), title:'m=0.1', xlabel:'β', ylabel:'ψ(x)  U<tspan font-size="8" dy="3">μ</tspan><tspan dy="-3">(x)  (x + μ)</tspan>', ylOff:54});
series(P2, f2Beta, f2L6, 'circle', COL.yellow, null, 'fig2-series-L6');
series(P2, f2Beta, f2L8, 'up', COL.red, null, 'fig2-series-L8');
series(P2, f2Beta, f2L12, 'down', COL.purple, null, 'fig2-series-L12');
legend(P2, [{label:'L=6', c:COL.yellow, shape:'circle'}, {label:'L=8', c:COL.red, shape:'up'}, {label:'L=12', c:COL.purple, shape:'down'}], 2253, 426);
// FIG 3
const P3 = axes({name:'fig3-polyakov-loop', x0:2393, x1:2699, y0:111, y1:314, xmin:0.5, xmax:3, ymin:0, ymax:0.3, xticks:ticksB3, yticks:yt(0,0.3,0.05), title:'L=6<tspan font-size="8" dy="-5">4</tspan>', xlabel:'β', ylabel:'&lt;L<tspan font-size="8" dy="3">p</tspan><tspan dy="-3">(x)&gt;</tspan>', ylOff:49});
series(P3, f3Beta, f3Lp, 'circle', COL.black, f3Err, 'fig3-series-Lp');
// FIG 4
const P4 = axes({name:'fig4-os-vs-mass-beta1.8', x0:2393, x1:2699, y0:485, y1:678, xmin:1, xmax:10, ymin:0, ymax:0.3, xticks:ticksM10, yticks:yt(0,0.3,0.05), title:'β=1.8', xlabel:'m x 10<tspan font-size="8" dy="-5">-3</tspan>', ylabel:'ε(x) εₐᵦ ψᵃ(x) ψᵇ(x)', ylOff:49});
series(P4, f4M, f4L6, 'circle', COL.blue, null, 'fig4-series-L6');
series(P4, f4M, f4L8, 'up', COL.yellow, null, 'fig4-series-L8');
series(P4, f4M, f4L12, 'down', COL.red, null, 'fig4-series-L12');
series(P4, f4M, f4L16, 'diamond', COL.purple, null, 'fig4-series-L16');
legend(P4, [{label:'L=6', c:COL.blue, shape:'circle'}, {label:'L=8', c:COL.yellow, shape:'up'}, {label:'L=12', c:COL.red, shape:'down'}, {label:'L=16', c:COL.purple, shape:'diamond'}], 2650, 637);
// FIG 5
const P5 = axes({name:'fig5-ol-vs-mass-beta1.8', x0:2398, x1:2699, y0:791, y1:984, xmin:1, xmax:10, ymin:-0.002, ymax:0.018, xticks:ticksM10, yticks:yt(-0.002,0.018,0.002), title:'β=1.8', xlabel:'m x 10<tspan font-size="8" dy="-5">-3</tspan>', ylabel:'ψ(x)  U<tspan font-size="8" dy="3">μ</tspan><tspan dy="-3">(x)  (x + μ)</tspan>', ylOff:54});
series(P5, f5M, f5L6, 'circle', COL.blue, f5Err, 'fig5-series-L6');
series(P5, f5M, f5L8, 'up', COL.yellow, f5Err, 'fig5-series-L8');
series(P5, f5M, f5L12, 'down', COL.red, f5Err, 'fig5-series-L12');
series(P5, f5M, f5L16, 'diamond', COL.purple, f5Err, 'fig5-series-L16');
legend(P5, [{label:'L=6', c:COL.blue, shape:'circle'}, {label:'L=8', c:COL.yellow, shape:'up'}, {label:'L=12', c:COL.red, shape:'down'}, {label:'L=16', c:COL.purple, shape:'diamond'}], 2650, 943);
// FIG 6
const P6 = axes({name:'fig6-os-vs-mass-beta1.7', x0:2921, x1:3228, y0:111, y1:314, xmin:0, xmax:0.08, ymin:0.05, ymax:0.4, xticks:ticksM08, yticks:yt(0.05,0.4,0.05), title:'β=1.7', xlabel:'m', ylabel:'ε(x) εₐᵦ ψᵃ(x) ψᵇ(x)', ylOff:48});
series(P6, f6M, f6L6, 'circle', COL.blue, null, 'fig6-series-L6');
series(P6, f6M, f6L8, 'up', COL.yellow, null, 'fig6-series-L8');
series(P6, f6M, f6L12, 'down', COL.red, null, 'fig6-series-L12');
series(P6, f6M, f6L16, 'diamond', COL.purple, null, 'fig6-series-L16');
legend(P6, [{label:'L=6', c:COL.blue, shape:'circle'}, {label:'L=8', c:COL.yellow, shape:'up'}, {label:'L=12', c:COL.red, shape:'down'}, {label:'L=16', c:COL.purple, shape:'diamond'}], 3180, 273);
// FIG 7
const P7 = axes({name:'fig7-ol-vs-mass-beta1.7', x0:2921, x1:3228, y0:417, y1:619, xmin:0, xmax:0.08, ymin:0, ymax:0.09, xticks:ticksM08, yticks:yt(0,0.09,0.01), title:'β=1.7', xlabel:'m', ylabel:'ψ(x)  U<tspan font-size="8" dy="3">μ</tspan><tspan dy="-3">(x)  (x + μ)</tspan>', ylOff:54});
series(P7, f7M, f7L6, 'circle', COL.blue, null, 'fig7-series-L6');
series(P7, f7M, f7L8, 'up', COL.yellow, null, 'fig7-series-L8');
series(P7, f7M, f7L12, 'down', COL.red, null, 'fig7-series-L12');
series(P7, f7M, f7L16, 'diamond', COL.purple, null, 'fig7-series-L16');
legend(P7, [{label:'L=6', c:COL.blue, shape:'circle'}, {label:'L=8', c:COL.yellow, shape:'up'}, {label:'L=12', c:COL.red, shape:'down'}, {label:'L=16', c:COL.purple, shape:'diamond'}], 3180, 580);
// FIG 8
const P8 = axes({name:'fig8-pion-correlator', x0:3307, x1:3626, y0:111, y1:314, xmin:0, xmax:35, ymin:-8, ymax:1, xticks:ticksT, yticks:ticksLog, yfmt:v => '10<tspan font-size="7.5" dy="-5">' + v + '</tspan>', title:'8<tspan font-size="8" dy="-5">3</tspan><tspan dy="5"> x 32</tspan>', xlabel:'t', ylabel:'C(t)', ylOff:40});
const f8Fit = [];
for (let t = 0; t <= 31.01; t += 0.25) f8Fit.push([t, Math.log10(f8FitA * (Math.exp(-f8FitM * t) + Math.exp(-f8FitM * (f8FitT - t))))]);
series(P8, f8T, f8LogC, 'circle', '#111', null, 'fig8-series-data');
curve(P8, f8Fit, '#d43a2a', 'fig8-fit-cosh');
legend(P8, [{label:'data', c:'#111', shape:'circle'}, {label:'fit:cosh(t)', c:'#d43a2a'}], 3578, 295);
// FIG 9
const P9 = axes({name:'fig9-pion-mass', x0:3313, x1:3626, y0:395, y1:610, xmin:0, xmax:0.316, ymin:0, ymax:2, xticks:ticksMq, yticks:yt(0,2,0.5), xlabel:'m<tspan font-size="8" dy="3">q</tspan>', ylabel:'m<tspan font-size="8" dy="3">π</tspan>', ylOff:41});
const f9Fit = [];
for (let q = 0; q <= 0.3161; q += 0.002) f9Fit.push([q, f9FitCoef * Math.sqrt(q)]);
curve(P9, f9Fit, '#d43a2a', 'fig9-fit-sqrt');
series(P9, f9Mq, f9Mpi, 'up', '#000', null, 'fig9-series-data');
legend(P9, [{label:'data', c:'#000', shape:'up'}, {label:'fit:√m<tspan font-size="8" dy="3">q</tspan>', c:'#d43a2a'}], 3578, 405);
// fix legend line for data-only entries (gnuplot draws only a marker for fig9 data)
</script>
</body></html>
